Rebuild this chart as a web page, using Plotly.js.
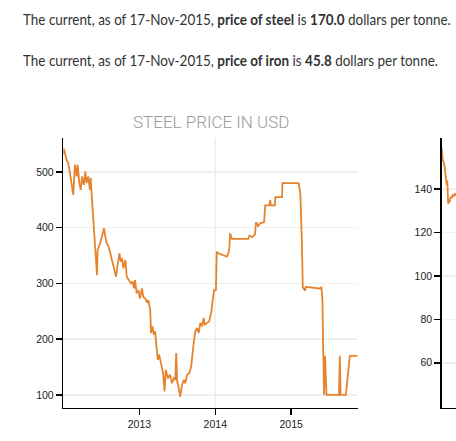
<!DOCTYPE html>
<html>
<head>
<meta charset="utf-8">
<script src="https://cdn.plot.ly/plotly-3.0.1.min.js"></script>
<style>
html, body { margin:0; padding:0; width:456px; height:441px; overflow:hidden; background:#fff; }
#plot { position:absolute; left:0; top:0; }
.line { position:absolute; left:23px; font-family:"Lato", sans-serif; font-size:15px; line-height:20px; color:#333; white-space:nowrap; z-index:5; transform:scaleX(0.897); transform-origin:0 0; }
.line b { font-weight:700; }
</style>
</head>
<body>
<div id="plot"></div>
<div class="line" id="l1" style="top:9px;">The current, as of 17-Nov-2015, <b>price of steel</b> is <b>170.0</b> dollars per tonne.</div>
<div class="line" id="l2" style="top:50px;">The current, as of 17-Nov-2015, <b>price of iron</b> is <b>45.8</b> dollars per tonne.</div>
<script>
// Steel price (USD per tonne)
const steelDates = [
 '2012-01-01','2012-01-04','2012-01-17','2012-01-25','2012-02-02','2012-02-10','2012-02-18','2012-02-26','2012-03-06','2012-03-10',
 '2012-03-18','2012-03-25','2012-03-31','2012-04-09','2012-04-16','2012-04-22','2012-04-30','2012-05-08','2012-05-12','2012-05-18',
 '2012-05-24','2012-05-31','2012-06-06','2012-06-11','2012-06-14','2012-06-26','2012-07-09','2012-07-15','2012-07-21','2012-07-28',
 '2012-08-06','2012-08-16','2012-08-29','2012-09-11','2012-09-17','2012-09-27','2012-10-03','2012-10-10','2012-10-16','2012-10-26',
 '2012-11-01','2012-11-11','2012-11-21','2012-11-30','2012-12-06','2012-12-11','2012-12-16','2012-12-19','2012-12-27','2013-01-04',
 '2013-01-13','2013-01-20','2013-01-29','2013-02-06','2013-02-13','2013-02-22','2013-02-26','2013-03-05','2013-03-11','2013-03-18',
 '2013-03-24','2013-03-31','2013-04-06','2013-04-16','2013-04-25','2013-05-02','2013-05-08','2013-05-18','2013-05-28','2013-06-07',
 '2013-06-16','2013-06-23','2013-06-27','2013-07-02','2013-07-08','2013-07-16','2013-07-25','2013-08-03','2013-08-09','2013-08-19',
 '2013-08-29','2013-09-07','2013-09-13','2013-09-20','2013-09-27','2013-10-05','2013-10-13','2013-10-21','2013-10-29','2013-11-06',
 '2013-11-11','2013-11-22','2013-12-03','2013-12-13','2013-12-19','2013-12-26','2014-01-04','2014-01-08','2014-01-16','2014-02-25',
 '2014-03-05','2014-03-10','2014-03-13','2014-03-22','2014-06-09','2014-06-14','2014-06-27','2014-07-03','2014-07-11','2014-07-16',
 '2014-07-26','2014-08-05','2014-08-24','2014-08-29','2014-09-19','2014-09-22','2014-09-25','2014-10-15','2014-10-17','2014-11-18',
 '2014-11-20','2015-02-06','2015-02-14','2015-02-21','2015-02-26','2015-03-10','2015-03-12','2015-03-16','2015-04-14','2015-05-15',
 '2015-05-26','2015-05-31','2015-06-08','2015-06-13','2015-06-20','2015-08-19','2015-08-23','2015-08-27','2015-09-21','2015-10-10',
 '2015-11-17'
];
const steelPrices = [
 532,542,521,516,498,480,459,513,492,513,
 480,468,492,477,501,480,492,468,489,450,
 414,378,348,315,360,372,390,399,384,372,
 366,351,330,312,330,354,339,345,327,342,
 312,306,300,303,291,306,294,282,288,273,
 291,276,273,267,270,252,211,223,208,214,
 187,163,172,151,139,106,145,130,136,121,
 130,127,175,124,115,97,118,127,121,136,
 139,151,175,196,214,220,211,229,223,238,
 226,229,232,249,267,288,288,357,354,348,
 354,366,390,380,380,386,383,386,388,410,
 403,408,410,440,440,450,440,440,455,455,
 480,480,462,380,293,287,294,294,293,291,
 293,273,100,170,100,100,170,100,100,170,
 170
];
// Iron ore price (USD per tonne), visible part
const ironDates = ['2012-01-01','2012-01-06','2012-01-13','2012-01-20','2012-01-25','2012-01-28','2012-02-01','2012-02-08','2012-02-13','2012-02-18','2012-02-23','2012-02-27','2012-03-06','2012-03-11'];
const ironPrices = [158.8,153.4,151.8,147.2,141.8,144,133.4,134.2,136.5,135.7,137.5,136.5,138,137];

const yearTicks = ['2013-01-01','2014-01-01','2015-01-01'];
const yearLabels = ['2013','2014','2015'];
const steelTicks = [100,200,300,400,500];
const ironTicks = [60,80,100,120,140];

const W = 760, H = 441;
const lineColor = '#e6832f';
const tickFont = {family:'"Liberation Sans", Arial, sans-serif', size:10.5, color:'#222'};
const yDom = [(H-407.7)/H, (H-138)/H];

function xAx(dom, labels) {
  return {domain:dom, type:'date', range:['2012-01-01','2015-11-17'], tickvals:yearTicks, ticktext:yearLabels,
    showticklabels:labels, showgrid:false, zeroline:false, showline:true, linecolor:'#000', linewidth:1.5, ticks:'outside', ticklen:6,
    tickcolor:'#000', tickwidth:1.5, tickfont:tickFont, fixedrange:true};
}
function yAx(range, ticks, anchor) {
  return {domain:yDom, range:range, tickvals:ticks, anchor:anchor, showgrid:true, gridcolor:'#f0f0f0', gridwidth:1.5,
    zeroline:false, showline:true, linecolor:'#000', linewidth:1.5, ticks:'outside', ticklen:6, tickcolor:'#000',
    tickwidth:1.5, tickfont:tickFont, fixedrange:true};
}

const data = [
  {x:steelDates, y:steelPrices, type:'scatter', mode:'lines', line:{color:lineColor, width:1.8}, xaxis:'x', yaxis:'y', hoverinfo:'x+y'},
  {x:ironDates, y:ironPrices, type:'scatter', mode:'lines', line:{color:lineColor, width:1.8}, xaxis:'x2', yaxis:'y2', hoverinfo:'x+y'}
];

const layout = {
  width:W, height:H, margin:{l:0, r:0, t:0, b:0}, showlegend:false,
  paper_bgcolor:'#fff', plot_bgcolor:'#fff',
  xaxis:xAx([63.3/W, 357.7/W], true),
  yaxis:yAx([77, 561], steelTicks, 'x'),
  xaxis2:xAx([441.7/W, 736.1/W], false),
  yaxis2:yAx([39.3, 163.5], ironTicks, 'x2'),
  shapes:[{type:'line', xref:'x', yref:'y domain', x0:'2014-01-01', x1:'2014-01-01', y0:0, y1:1, line:{color:'#eeeeee', width:1.5}, layer:'below'}],
  annotations:[{text:'STEEL PRICE IN USD', xref:'paper', yref:'paper', x:(63.3+357.7)/2/W, y:(H-122)/H, xanchor:'center', yanchor:'middle', showarrow:false,
    font:{family:'Roboto, sans-serif', size:17, color:'#9a9a9a', weight:300}}]
};

Plotly.newPlot('plot', data, layout, {displayModeBar:false, staticPlot:true});
</script>
</body>
</html>
